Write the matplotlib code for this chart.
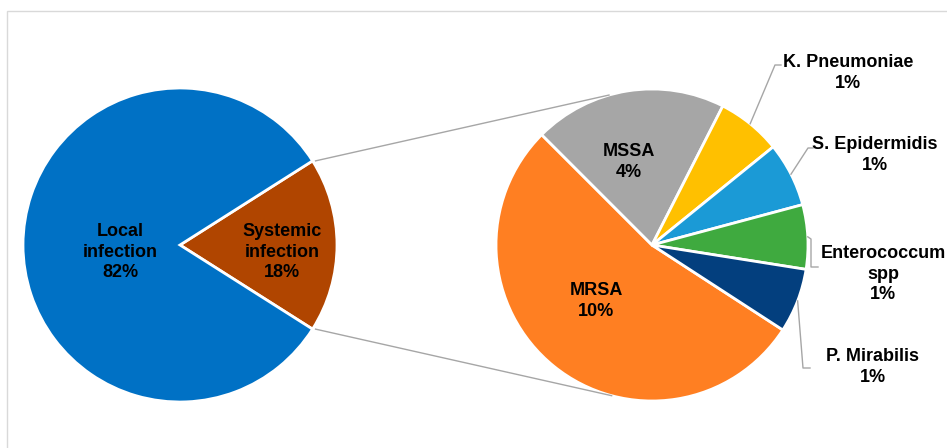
import numpy as np
import matplotlib.pyplot as plt
from matplotlib.patches import Rectangle

plt.rcParams['font.family'] = ['Liberation Sans', 'DejaVu Sans']

# Main pie data
main_labels = ['Systemic\ninfection', 'Local\ninfection']
main_values = [18, 82]
main_colors = ['#B04500', '#0071C5']

# Breakdown of systemic infection
sub_labels = ['MRSA', 'MSSA', 'K. Pneumoniae', 'S. Epidermidis', 'Enterococcum\nspp', 'P. Mirabilis']
sub_values = [9.6, 3.6, 1.2, 1.2, 1.2, 1.2]
sub_colors = ['#FF7F22', '#A6A6A6', '#FFC000', '#1B9AD6', '#3FAA3F', '#033F7E']

W, H = 947, 448
fig = plt.figure(figsize=(W / 100, H / 100), dpi=100)
ax = fig.add_axes([0, 0, 1, 1])

# light chart border
fig.patches.append(Rectangle((7 / W, -0.1), 1.2, (H - 11) / H + 0.1, transform=fig.transFigure,
                             fill=False, edgecolor='#D9D9D9', linewidth=1))

c1, r1 = (180, 203), 157
c2, r2 = (652, 203), 156

wedge_kw = dict(edgecolor='white', linewidth=2)
half = main_values[0] / sum(main_values) * 360 / 2
w1, _ = ax.pie(main_values, colors=main_colors, startangle=-half, counterclock=True,
               center=c1, radius=r1, wedgeprops=wedge_kw, frame=True)
w2, _ = ax.pie(sub_values, colors=sub_colors, startangle=-33, counterclock=False,
               center=c2, radius=r2, wedgeprops=wedge_kw, frame=True)
ax.set_xlim(0, W)
ax.set_ylim(0, H)
ax.set_aspect('equal')
ax.axis('off')

txt = dict(fontsize=13, fontweight='bold', ha='center', va='center', linespacing=1.25)

# main labels
main_pos = [(282, 196), (120, 196)]
for lab, v, p in zip(main_labels, main_values, main_pos):
    ax.text(p[0], p[1], f'{lab}\n{v:.0f}%', **txt)

# connector lines from the systemic wedge to the second pie
for a1, a2 in [(half, 106), (-half, -105)]:
    x1 = c1[0] + r1 * np.cos(np.radians(a1))
    y1 = c1[1] + r1 * np.sin(np.radians(a1))
    x2 = c2[0] + r2 * np.cos(np.radians(a2))
    y2 = c2[1] + r2 * np.sin(np.radians(a2))
    ax.plot([x1 + 3, x2], [y1, y2], color='#A6A6A6', linewidth=1)

# inside labels
inside_pos = {0: (596, 147), 1: (629, 286)}
for i, p in inside_pos.items():
    ax.text(p[0], p[1], f'{sub_labels[i]}\n{sub_values[i]:.0f}%', **txt)

# outside labels with leader lines
outside = {
    2: ((848, 375), [(775, 383), (781, 383)]),
    3: ((875, 293), [(808, 300), (813, 300)]),
    4: ((883, 174), [(811, 209), (811, 181), (818, 181)]),
    5: ((873, 81), [(803, 80), (810, 80)]),
}
for i, (p, pts) in outside.items():
    w = w2[i]
    mid = np.radians((w.theta1 + w.theta2) / 2)
    sx = c2[0] + r2 * np.cos(mid)
    sy = c2[1] + r2 * np.sin(mid)
    xs = [sx] + [q[0] for q in pts]
    ys = [sy] + [q[1] for q in pts]
    ax.plot(xs, ys, color='#A6A6A6', linewidth=1)
    ax.text(p[0], p[1], f'{sub_labels[i]}\n{sub_values[i]:.0f}%', **txt)

fig.savefig('out.png', dpi=100, facecolor='white')
